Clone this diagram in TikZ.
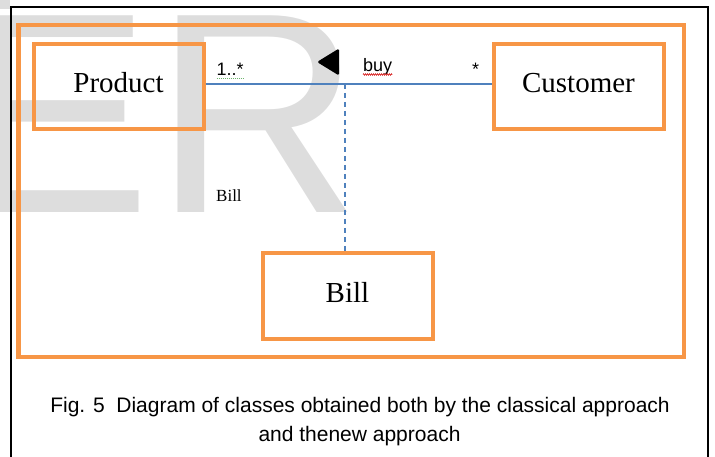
\documentclass[tikz,border=0pt]{standalone}
\usepackage{fontspec}
\setmainfont{Liberation Serif}
\setsansfont{Liberation Sans}
\usetikzlibrary{decorations.pathmorphing}

\definecolor{wmgray}{RGB}{221,221,221}
\definecolor{boxorange}{RGB}{247,150,70}
\definecolor{assocblue}{RGB}{79,129,189}
\definecolor{spellred}{RGB}{220,60,60}
\definecolor{grammargreen}{RGB}{110,180,110}

\begin{document}
\begin{tikzpicture}[x=1pt,y=-1pt,
  watermark/.style={anchor=base west, inner sep=0pt, text=wmgray,
    font=\sffamily\fontsize{286}{286}\selectfont},
  classbox/.style={draw=boxorange, line width=4pt, inner sep=0pt,
    minimum width=170pt, minimum height=85pt,
    text height=20pt, text depth=8pt,
    font=\fontsize{29}{32}\selectfont},
  assoc/.style={color=assocblue, line width=1.2pt},
  smalllabel/.style={anchor=base west, inner sep=0pt,
    font=\sffamily\fontsize{18}{20}\selectfont},
  captiontext/.style={anchor=base, inner sep=0pt,
    font=\sffamily\fontsize{21}{26}\selectfont}]

\useasboundingbox (0,0) rectangle (715,457);
\clip (0,0) rectangle (715,457);

% background watermark letters
\node[watermark] (wmE) at (-40,213) {E};
\node[watermark] (wmR) at (154.5,213) {R};
\fill[wmgray] (0,0) rectangle (10,9);

% page frame and figure frame
\draw[line width=2pt] (11,470) -- (11,7) -- (708,7) -- (708,470);
\draw[boxorange, line width=4.5pt] (18.5,25) rectangle (684,357);

% classes
\node[classbox] (product)  at (118.5,86.5) {Product};
\node[classbox] (customer) at (578.5,86.5) {Customer};
\node[classbox] (bill)     at (347.5,296)  {Bill};

% association and association class link
\draw[assoc] (product.east |- 0,84) -- (customer.west |- 0,84);
\coordinate (junction) at (345,84);
\draw[assoc, dash pattern=on 5pt off 4pt] (junction) -- (junction |- bill.north);

% reading direction marker
\fill[rounded corners=1.5pt] (317,62) -- (339,48.5) -- (339,75.5) -- cycle;

% association labels
\node[smalllabel] (mult1) at (216.5,76) {1..*};
\node[smalllabel] (name) at (363,72) {buy};
\node[smalllabel] (mult2) at (472,76) {*};
\draw[grammargreen, line width=1pt, dash pattern=on 1pt off 1pt] (mult1.south west |- 0,79) -- (mult1.south east |- 0,79);
\draw[spellred, line width=0.7pt, decorate,
  decoration={zigzag, amplitude=0.8pt, segment length=2pt}]
  (name.west |- 0,74.5) -- (name.east |- 0,74.5);

% stray association class name
\node[anchor=base west, inner sep=0pt, font=\fontsize{17}{20}\selectfont] (billtag) at (216,202) {Bill};

% caption
\node[captiontext] (cap1) at (360,412) {Fig. 5\ \ Diagram of classes obtained both by the classical approach};
\node[captiontext] (cap2) at (359.5,441) {and thenew approach};
\end{tikzpicture}
\end{document}
